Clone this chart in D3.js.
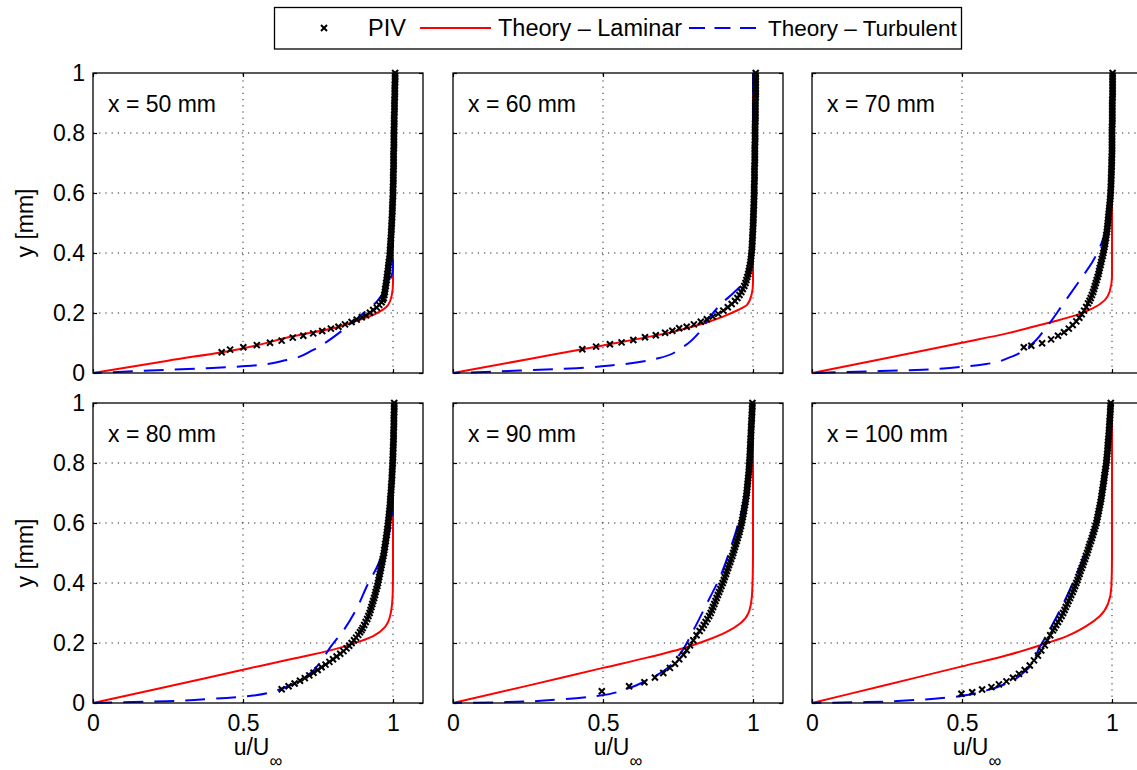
<!DOCTYPE html>
<html><head><meta charset="utf-8">
<script src="https://cdn.jsdelivr.net/npm/d3@7"></script>
<style>
body{margin:0;background:#fff;}
text{font-family:"Liberation Sans", Arial, Helvetica, sans-serif; fill:#000;}
</style></head><body>
<svg id="chart" width="1137" height="770"></svg>
<script>
// ---------------- data ----------------
const stations = ["x = 50 mm","x = 60 mm","x = 70 mm","x = 80 mm","x = 90 mm","x = 100 mm"];
const xTicks = [0, 0.5, 1];
const xTickLabels = ["0","0.5","1"];
const yTicks = [0, 0.2, 0.4, 0.6, 0.8, 1];
const yTickLabels = ["0","0.2","0.4","0.6","0.8","1"];
const gridX = [0.5, 1];
const gridY = [0.2, 0.4, 0.6, 0.8];
const legendLabels = ["PIV","Theory \u2013 Laminar","Theory \u2013 Turbulent"];
const xLabel = "u/U";
const xLabelSub = "\u221e";
const yLabel = "y [mm]";

// Laminar theory (red)
const lamU50 = [0,0.25,0.5,0.67,0.80,0.87,0.945,0.984,0.996,1.0,1.0];
const lamY50 = [0,0.041,0.082,0.123,0.149,0.171,0.199,0.227,0.26,0.3,1.0];
const lamU60 = [0,0.25,0.5,0.735,0.80,0.85,0.90,0.95,0.98,0.995,1.0,1.0];
const lamY60 = [0,0.046,0.092,0.138,0.155,0.17,0.188,0.21,0.227,0.26,0.3,1.0];
const lamU70 = [0,0.25,0.5,0.65,0.737,0.803,0.881,0.937,0.976,0.992,1.0,1.0];
const lamY70 = [0,0.05,0.101,0.132,0.154,0.171,0.193,0.216,0.243,0.271,0.321,1.0];
const lamU80 = [0,0.25,0.5,0.65,0.801,0.868,0.934,0.973,0.992,0.999,1.0,1.0];
const lamY80 = [0,0.055,0.111,0.144,0.178,0.198,0.223,0.253,0.297,0.364,0.43,1.0];
const lamU90 = [0,0.25,0.5,0.65,0.779,0.846,0.912,0.957,0.984,0.996,0.999,1.0,1.0];
const lamY90 = [0,0.058,0.117,0.152,0.186,0.209,0.237,0.265,0.298,0.353,0.42,0.5,1.0];
const lamU100 = [0,0.25,0.5,0.65,0.759,0.848,0.914,0.959,0.987,0.998,1.0,1.0];
const lamY100 = [0,0.061,0.122,0.159,0.192,0.222,0.256,0.289,0.331,0.387,0.486,1.0];

// Turbulent theory (blue dashed)
const turbU50 = [0,0.19,0.379,0.512,0.646,0.734,0.779,0.846,0.901,0.946,0.98,1.0,1.0];
const turbY50 = [0,0.008,0.016,0.023,0.043,0.077,0.104,0.154,0.199,0.238,0.29,0.35,1.0];
const turbU60 = [0,0.223,0.412,0.546,0.684,0.768,0.818,0.857,0.896,0.934,0.957,0.985,1.0,1.0];
const turbY60 = [0,0.008,0.016,0.027,0.049,0.088,0.132,0.188,0.232,0.266,0.288,0.33,0.4,1.0];
const turbU70 = [0,0.181,0.348,0.459,0.581,0.659,0.726,0.781,0.837,0.892,0.937,0.964,0.987,1.0,1.0];
const turbY70 = [0,0.005,0.01,0.017,0.03,0.052,0.091,0.152,0.23,0.308,0.374,0.43,0.508,0.6,1.0];
const turbU80 = [0,0.246,0.401,0.534,0.612,0.668,0.723,0.762,0.792,0.835,0.876,0.918,0.945,0.965,0.985,1.0,1.0];
const turbY80 = [0,0.006,0.014,0.025,0.042,0.064,0.098,0.142,0.187,0.242,0.309,0.4,0.45,0.5,0.56,0.64,1.0];
const turbU90 = [0,0.179,0.346,0.49,0.579,0.646,0.712,0.757,0.801,0.846,0.89,0.923,0.951,0.973,0.99,0.998,1.0];
const turbY90 = [0,0.003,0.011,0.025,0.047,0.075,0.114,0.164,0.242,0.331,0.42,0.509,0.598,0.687,0.798,0.909,1.0];
const turbU100 = [0,0.181,0.326,0.459,0.581,0.659,0.714,0.759,0.803,0.848,0.892,0.926,0.953,0.976,0.99,1.0];
const turbY100 = [0,0.003,0.009,0.019,0.042,0.07,0.109,0.186,0.264,0.353,0.453,0.542,0.642,0.764,0.876,1.0];

// PIV, near-wall part
const pivLowY50 = [0.069,0.078,0.086,0.093,0.101,0.108,0.118,0.124,0.132,0.140,0.148,0.154,0.162,0.170,0.178,0.186,0.192,0.201,0.210,0.218,0.227,0.236,0.244];
const pivLowU50 = [0.429,0.457,0.501,0.546,0.590,0.629,0.666,0.701,0.734,0.764,0.793,0.818,0.840,0.862,0.879,0.896,0.910,0.923,0.934,0.946,0.954,0.962,0.966];
const pivLowY60 = [0.079,0.088,0.096,0.102,0.110,0.119,0.126,0.134,0.141,0.149,0.154,0.162,0.171,0.179,0.188,0.197,0.208,0.219,0.230,0.240];
const pivLowU60 = [0.431,0.477,0.523,0.562,0.601,0.640,0.676,0.707,0.731,0.754,0.779,0.803,0.826,0.846,0.866,0.884,0.901,0.916,0.929,0.940];
const pivLowY70 = [0.086,0.091,0.099,0.112,0.124,0.136,0.148,0.160,0.172,0.184,0.196,0.208,0.220,0.232,0.241];
const pivLowU70 = [0.706,0.731,0.767,0.797,0.820,0.840,0.856,0.869,0.881,0.891,0.899,0.907,0.914,0.920,0.925];
const pivLowY80 = [0.046,0.056,0.065,0.074,0.083,0.092,0.101,0.110,0.119,0.128,0.137,0.146,0.155,0.164,0.173,0.182,0.191,0.200,0.209,0.218,0.227,0.236,0.243];
const pivLowU80 = [0.629,0.652,0.672,0.690,0.706,0.721,0.735,0.749,0.762,0.775,0.788,0.800,0.812,0.824,0.835,0.845,0.854,0.862,0.870,0.877,0.884,0.890,0.895];
const pivLowY90 = [0.039,0.056,0.069,0.085,0.100,0.117,0.131,0.146,0.161,0.176,0.192,0.209,0.226,0.240];
const pivLowU90 = [0.496,0.587,0.638,0.673,0.701,0.723,0.740,0.754,0.768,0.779,0.790,0.801,0.812,0.822];
const pivLowY100 = [0.031,0.036,0.045,0.053,0.062,0.072,0.084,0.097,0.110,0.125,0.142,0.158,0.175,0.192,0.209,0.226,0.242];
const pivLowU100 = [0.498,0.534,0.567,0.598,0.623,0.648,0.670,0.690,0.709,0.726,0.740,0.753,0.764,0.776,0.784,0.794,0.803];

// PIV, outer part (shared measurement heights)
const pivUpY = [0.25,0.26,0.27,0.28,0.29,0.30,0.31,0.32,0.33,0.34,0.35,0.36,0.37,0.38,0.39,0.40,0.41,0.42,0.43,0.44,
 0.45,0.46,0.47,0.48,0.49,0.50,0.51,0.52,0.53,0.54,0.55,0.56,0.57,0.58,0.59,0.60,0.61,0.62,0.63,0.64,
 0.65,0.66,0.67,0.68,0.69,0.70,0.71,0.72,0.73,0.74,0.75,0.76,0.77,0.78,0.79,0.80,0.81,0.82,0.83,0.84,
 0.85,0.86,0.87,0.88,0.89,0.90,0.91,0.92,0.93,0.94,0.95,0.96,0.97,0.98,0.99,1.00];
const pivUpU50 = [.969,.971,.973,.974,.976,.977,.979,.980,.981,.983,
 .984,.985,.986,.988,.989,.990,.990,.991,.992,.992,
 .993,.994,.994,.995,.995,.996,.996,.997,.997,.998,
 .998,.998,.999,.999,1.0,1.0,1.0,1.0,1.001,1.001,
 1.001,1.001,1.001,1.002,1.002,1.002,1.002,1.002,1.002,1.002,
 1.003,1.003,1.003,1.003,1.003,1.003,1.003,1.004,1.004,1.004,
 1.004,1.004,1.005,1.005,1.005,1.005,1.005,1.006,1.006,1.006,
 1.006,1.006,1.007,1.007,1.007,1.007];
const pivUpU60 = [.948,.955,.961,.966,.971,.975,.978,.981,.984,.986,
 .988,.990,.992,.993,.994,.995,.996,.997,.997,.998,
 .998,.999,.999,1.0,1.0,1.001,1.001,1.001,1.002,1.002,
 1.002,1.003,1.003,1.003,1.004,1.004,1.004,1.004,1.004,1.005,
 1.005,1.005,1.005,1.005,1.005,1.006,1.006,1.006,1.006,1.006,
 1.006,1.006,1.007,1.007,1.007,1.007,1.007,1.007,1.007,1.008,
 1.008,1.008,1.008,1.008,1.008,1.008,1.008,1.009,1.009,1.009,
 1.009,1.009,1.009,1.009,1.009,1.009];
const pivUpU70 = [.929,.933,.937,.940,.943,.946,.949,.952,.955,.957,
 .959,.962,.964,.966,.969,.971,.973,.975,.977,.978,
 .980,.981,.983,.984,.985,.986,.987,.988,.989,.990,
 .991,.992,.993,.994,.995,.995,.996,.996,.997,.997,
 .997,.998,.998,.998,.999,.999,.999,.999,1.0,1.0,
 1.0,1.0,1.0,1.0,1.0,1.0,1.0,1.0,1.001,1.001,
 1.001,1.001,1.001,1.001,1.001,1.001,1.001,1.002,1.002,1.002,
 1.002,1.002,1.002,1.002,1.002,1.002];
const pivUpU80 = [.899,.904,.909,.914,.918,.922,.925,.928,.931,.934,
 .937,.940,.942,.945,.948,.950,.952,.954,.956,.958,
 .960,.962,.964,.966,.968,.970,.971,.973,.974,.976,
 .977,.979,.980,.981,.983,.984,.985,.986,.987,.988,
 .989,.990,.991,.991,.992,.993,.994,.994,.995,.996,
 .996,.997,.997,.998,.998,.999,.999,1.0,1.0,1.0,
 1.001,1.001,1.001,1.002,1.002,1.002,1.002,1.003,1.003,1.003,
 1.003,1.003,1.004,1.004,1.004,1.004];
const pivUpU90 = [.830,.836,.842,.848,.854,.859,.863,.867,.871,.875,
 .879,.883,.887,.891,.895,.899,.903,.906,.910,.913,
 .917,.920,.924,.927,.931,.934,.937,.940,.943,.946,
 .949,.952,.955,.957,.960,.962,.964,.966,.968,.970,
 .971,.973,.975,.976,.978,.979,.980,.981,.982,.983,
 .984,.985,.986,.987,.987,.988,.989,.989,.990,.990,
 .991,.991,.992,.992,.993,.993,.994,.994,.995,.995,
 .996,.996,.997,.997,.998,.998];
const pivUpU100 = [.808,.814,.820,.826,.832,.837,.842,.846,.851,.855,
 .860,.864,.869,.873,.877,.881,.885,.888,.892,.895,
 .899,.903,.906,.910,.913,.917,.920,.923,.926,.930,
 .933,.936,.939,.942,.945,.948,.950,.952,.954,.956,
 .958,.960,.962,.964,.965,.967,.968,.970,.971,.973,
 .974,.975,.977,.978,.980,.981,.982,.983,.984,.985,
 .986,.986,.987,.988,.989,.990,.990,.991,.992,.992,
 .993,.994,.994,.995,.995,.996];

// ---------------- build ----------------
const panels = [
  {title: stations[0], lamU: lamU50, lamY: lamY50, turbU: turbU50, turbY: turbY50, lowU: pivLowU50, lowY: pivLowY50, upU: pivUpU50},
  {title: stations[1], lamU: lamU60, lamY: lamY60, turbU: turbU60, turbY: turbY60, lowU: pivLowU60, lowY: pivLowY60, upU: pivUpU60},
  {title: stations[2], lamU: lamU70, lamY: lamY70, turbU: turbU70, turbY: turbY70, lowU: pivLowU70, lowY: pivLowY70, upU: pivUpU70},
  {title: stations[3], lamU: lamU80, lamY: lamY80, turbU: turbU80, turbY: turbY80, lowU: pivLowU80, lowY: pivLowY80, upU: pivUpU80},
  {title: stations[4], lamU: lamU90, lamY: lamY90, turbU: turbU90, turbY: turbY90, lowU: pivLowU90, lowY: pivLowY90, upU: pivUpU90},
  {title: stations[5], lamU: lamU100, lamY: lamY100, turbU: turbU100, turbY: turbY100, lowU: pivLowU100, lowY: pivLowY100, upU: pivUpU100}
];

const svg = d3.select("#chart");
const colX = [93, 453, 812];
const rowY = [73, 403];
const W = 330, H = 300;
const FS = 23;
const RED = "#ff0000", BLUE = "#0000ff";
const TURB_DASH = "20,11";
const MK = 3, MKW = 2;
const xPath = s => `M${-s},${-s}L${s},${s}M${-s},${s}L${s},${-s}`;

panels.forEach((p, i) => {
  const col = i % 3, row = Math.floor(i / 3);
  const x0 = colX[col], y0 = rowY[row];
  const x = d3.scaleLinear().domain([0, 1.1]).range([x0, x0 + W]);
  const y = d3.scaleLinear().domain([0, 1]).range([y0 + H, y0]);
  const g = svg.append("g");

  // grid
  g.selectAll(".gx").data(gridX).join("line")
    .attr("x1", d => x(d)).attr("x2", d => x(d)).attr("y1", y(0)).attr("y2", y(1))
    .attr("stroke", "#222").attr("stroke-width", 1).attr("stroke-dasharray", "1.2,5");
  g.selectAll(".gy").data(gridY).join("line")
    .attr("x1", x(0)).attr("x2", x(1.1)).attr("y1", d => y(d)).attr("y2", d => y(d))
    .attr("stroke", "#222").attr("stroke-width", 1).attr("stroke-dasharray", "1.2,5");

  // axes (ticks inward)
  const bottom = d3.axisBottom(x).tickValues(xTicks).tickSizeInner(-4).tickSizeOuter(0).tickPadding(12)
    .tickFormat((d, k) => row === 1 ? xTickLabels[k] : "");
  const top = d3.axisTop(x).tickValues(xTicks).tickSizeInner(-4).tickSizeOuter(0).tickFormat("");
  const left = d3.axisLeft(y).tickValues(yTicks).tickSizeInner(-4).tickSizeOuter(0).tickPadding(8)
    .tickFormat((d, k) => col === 0 ? yTickLabels[k] : "");
  const right = d3.axisRight(y).tickValues(yTicks).tickSizeInner(-4).tickSizeOuter(0).tickFormat("");
  [[bottom, `translate(0,${y0 + H})`], [top, `translate(0,${y0})`], [left, `translate(${x0},0)`], [right, `translate(${x0 + W},0)`]]
    .forEach(([ax, tr]) => {
      const a = g.append("g").attr("transform", tr).call(ax);
      a.select(".domain").remove();
      a.selectAll("line").attr("stroke", "#000").attr("stroke-width", 1.2);
      a.selectAll("text").attr("font-size", FS).attr("font-family", '"Liberation Sans", Arial, sans-serif').attr("fill", "#000");
    });

  // curves
  const line = d3.line().x(d => x(d[0])).y(d => y(d[1])).curve(d3.curveMonotoneY);
  const lam = p.lamU.map((u, k) => [u, p.lamY[k]]).sort((a, b) => b[1] - a[1]);
  const turb = p.turbU.map((u, k) => [u, p.turbY[k]]).sort((a, b) => b[1] - a[1]);
  g.append("path").attr("d", line(lam)).attr("fill", "none").attr("stroke", RED).attr("stroke-width", 2);
  g.append("path").attr("d", line(turb)).attr("fill", "none").attr("stroke", BLUE).attr("stroke-width", 2)
    .attr("stroke-dasharray", TURB_DASH);

  // PIV markers
  const piv = p.lowU.map((u, k) => [u, p.lowY[k]]).concat(p.upU.map((u, k) => [u, pivUpY[k]]));
  g.selectAll(".piv").data(piv).join("path")
    .attr("transform", d => `translate(${x(d[0])},${y(d[1])})`)
    .attr("d", xPath(MK)).attr("fill", "none").attr("stroke", "#000").attr("stroke-width", MKW);

  // frame
  g.append("rect").attr("x", x0).attr("y", y0).attr("width", W).attr("height", H)
    .attr("fill", "none").attr("stroke", "#000").attr("stroke-width", 1.3);

  // station label
  g.append("text").attr("x", x0 + 15).attr("y", y0 + 39).attr("font-size", FS).text(p.title);

  // axis labels
  if (row === 1) {
    const t = g.append("text").attr("x", x0 + W / 2).attr("y", y0 + H + 52)
      .attr("text-anchor", "middle").attr("font-size", FS);
    t.append("tspan").text(xLabel);
    t.append("tspan").attr("dy", 12).attr("font-size", 18).text(xLabelSub);
  }
  if (col === 0) {
    g.append("text").attr("transform", `translate(33,${y0 + H / 2}) rotate(-90)`)
      .attr("text-anchor", "middle").attr("font-size", FS).text(yLabel);
  }
});

// legend
const lg = svg.append("g");
lg.append("rect").attr("x", 274.5).attr("y", 7.5).attr("width", 687).attr("height", 41.5)
  .attr("fill", "#fff").attr("stroke", "#000").attr("stroke-width", 1.3);
lg.append("path").attr("transform", "translate(324,28)").attr("d", xPath(MK))
  .attr("fill", "none").attr("stroke", "#000").attr("stroke-width", MKW);
lg.append("text").attr("x", 368).attr("y", 36).attr("font-size", 23.5).text(legendLabels[0]);
lg.append("line").attr("x1", 420).attr("x2", 491).attr("y1", 28).attr("y2", 28)
  .attr("stroke", RED).attr("stroke-width", 2);
lg.append("text").attr("x", 498).attr("y", 36).attr("font-size", 23.5).text(legendLabels[1]);
lg.append("line").attr("x1", 689).attr("x2", 756).attr("y1", 28).attr("y2", 28)
  .attr("stroke", BLUE).attr("stroke-width", 2).attr("stroke-dasharray", "16,9.5");
lg.append("text").attr("x", 768).attr("y", 36).attr("font-size", 22.5).text(legendLabels[2]);
</script>
</body></html>
